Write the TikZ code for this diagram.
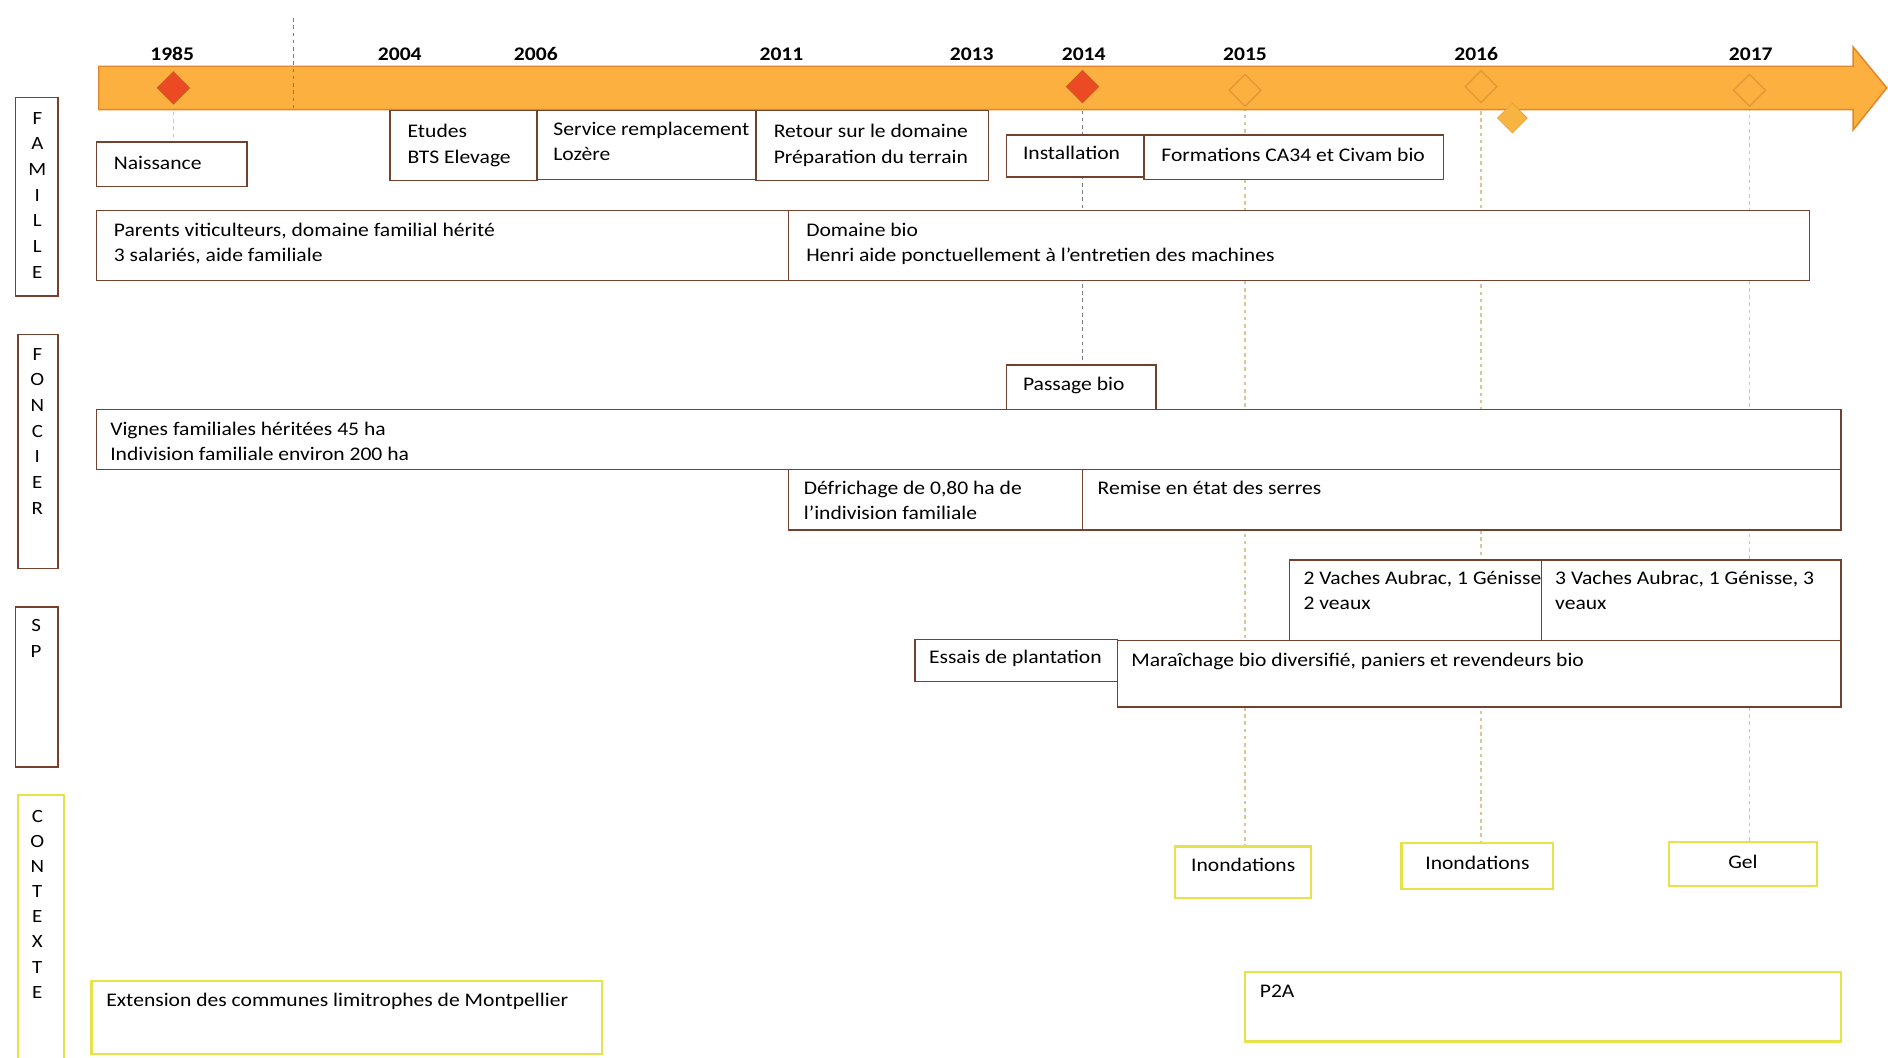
\documentclass[tikz,border=0pt]{standalone}
\usepackage{fontspec}
\setmainfont{Carlito}[FakeStretch=1.12]
\usetikzlibrary{shapes.geometric, fit, backgrounds, positioning}

\definecolor{barfill}{HTML}{FBB03F}
\definecolor{bardraw}{HTML}{E0862A}
\definecolor{keyred}{HTML}{EB4A24}
\definecolor{keyedge}{HTML}{D25A1E}
\definecolor{hollow}{HTML}{E39A35}
\definecolor{goldfill}{HTML}{F7B441}
\definecolor{boxedge}{HTML}{74412F}
\definecolor{ctxedge}{HTML}{E6E24A}
\definecolor{guidecol}{HTML}{D9C59A}
\definecolor{guidedark}{HTML}{7A7A80}

\begin{document}
\begin{tikzpicture}[x=1pt, y=-1pt,
  box/.style = {draw=boxedge, fill=white, line width=1.2pt, inner sep=0pt},
  ctx/.style = {draw=ctxedge, fill=white, line width=1.8pt, inner sep=0pt},
  txt/.style = {anchor=base west, align=left, inner sep=0pt, font=\fontsize{16}{21}\selectfont},
  year/.style = {inner sep=0pt, font=\fontsize{16}{18}\selectfont\bfseries},
  sidetxt/.style = {anchor=base, align=center, inner sep=0pt, font=\fontsize{15.5}{21.3}\selectfont},
  keyfull/.style = {diamond, draw=keyedge, fill=keyred, minimum size=27pt, inner sep=0pt, line width=0.8pt},
  keyopen/.style = {diamond, draw=hollow, minimum size=27pt, inner sep=0pt, line width=1.2pt},
  guide/.style = {draw=guidecol, dashed, line width=1pt}]
  \useasboundingbox (0,0) rectangle (1568,878);

  % timeline
  \draw[bardraw, fill=barfill, line width=1.2pt] (82,55) -- (1539,55) -- (1539,39) -- (1567,73)
    -- (1539,108) -- (1539,91) -- (82,91) -- cycle;
  \coordinate (cuttop) at (244,15);
  \coordinate (cutbot) at (244,91);
  \draw[guidedark, dashed, line width=1pt] (cuttop) -- (cutbot);

  \node[year] (y1985) at (143,45) {1985};
  \node[year] (y2004) at (332,45) {2004};
  \node[year] (y2006) at (445,45) {2006};
  \node[year] (y2011) at (649,45) {2011};
  \node[year] (y2013) at (807,45) {2013};
  \node[year] (y2014) at (900,45) {2014};
  \node[year] (y2015) at (1034,45) {2015};
  \node[year] (y2016) at (1226,45) {2016};
  \node[year] (y2017) at (1454,45) {2017};

  \node[keyfull] (d1985) at (144,73) {};
  \node[keyfull] (d2014) at (899,72) {};
  \node[keyopen] (d2015) at (1034,75) {};
  \node[keyopen] (d2016) at (1230,72) {};
  \node[keyopen] (d2017) at (1453,75) {};
  \node[diamond, draw=hollow, fill=goldfill, minimum size=25pt, inner sep=0pt] (dgold) at (1256,98) {};

  % side labels
  \node[box, fit={(13,81) (48,246)}] (famille) {};
  \node[sidetxt] (famille-t) at (31,231) {F\\A\\M\\I\\L\\L\\E};
  \node[box, fit={(15,278) (48,472)}] (foncier) {};
  \node[sidetxt] (foncier-t) at (31,427) {F\\O\\N\\C\\I\\E\\R};
  \node[box, fit={(13,504) (48,637)}] (sp) {};
  \node[sidetxt] (sp-t) at (30,546) {S\\P};
  \node[ctx, fit={(15,660) (53,884)}] (contexte) {};
  \node[sidetxt, font=\fontsize{15.5}{20.9}\selectfont] (contexte-t) at (31,829) {C\\O\\N\\T\\E\\X\\T\\E};

  % famille
  \node[box, fit={(80,118) (205,155)}] (naiss) {};
  \node[txt] (naiss-t) at ([shift={(15,23)}]naiss.north west) {Naissance};
  \node[box, fit={(324,92) (446,150)}] (etudes) {};
  \node[txt] (etudes-t) at ([shift={(15,44)}]etudes.north west) {Etudes\\BTS Elevage};
  \node[box, fit={(446,92) (628,149)}] (service) {};
  \node[txt] (service-t) at ([shift={(14,42)}]service.north west) {Service remplacement\\Lozère};
  \node[box, fit={(628,92) (821,150)}] (retour) {};
  \node[txt] (retour-t) at ([shift={(15,44)}]retour.north west) {Retour sur le domaine\\Préparation du terrain};
  \node[box, fit={(836,112) (950,147)}] (install) {};
  \node[txt] (install-t) at ([shift={(14,21)}]install.north west) {Installation};
  \node[box, fit={(950,112) (1199,149)}] (format) {};
  \node[txt] (format-t) at ([shift={(15,23)}]format.north west) {Formations CA34 et Civam bio};
  \node[box, fit={(80,175) (655,233)}] (parents) {};
  \node[txt] (parents-t) at ([shift={(15,43)}]parents.north west) {Parents viticulteurs, domaine familial hérité\\3 salariés, aide familiale};
  \node[box, fit={(655,175) (1503,233)}] (domaine) {};
  \node[txt] (domaine-t) at ([shift={(15,43)}]domaine.north west) {Domaine bio\\Henri aide ponctuellement à l’entretien des machines};

  % foncier
  \node[box, fit={(836,303) (960,340)}] (passage) {};
  \node[txt] (passage-t) at ([shift={(14,22)}]passage.north west) {Passage bio};
  \node[box, fit={(80,340) (1529,390)}] (vignes) {};
  \node[txt] (vignes-t) at ([shift={(12,43)}]vignes.north west) {Vignes familiales héritées 45 ha\\Indivision familiale environ 200 ha};
  \node[box, fit={(655,390) (899,440)}] (defrich) {};
  \node[txt] (defrich-t) at ([shift={(13,42)}]defrich.north west) {Défrichage de 0,80 ha de\\l’indivision familiale};
  \node[box, fit={(899,390) (1529,440)}] (remise) {};
  \node[txt] (remise-t) at ([shift={(13,21)}]remise.north west) {Remise en état des serres};

  % sp
  \node[box, fit={(1071,465) (1280,532)}] (vaches2) {};
  \node[txt] (vaches2-t) at ([shift={(12,42)}]vaches2.north west) {2 Vaches Aubrac, 1 Génisse\\2 veaux};
  \node[box, fit={(1280,465) (1529,532)}] (vaches3) {};
  \node[txt] (vaches3-t) at ([shift={(12,42)}]vaches3.north west) {3 Vaches Aubrac, 1 Génisse, 3\\veaux};
  \node[box, fit={(760,531) (928,566)}] (essais) {};
  \node[txt] (essais-t) at ([shift={(12,21)}]essais.north west) {Essais de plantation};
  \node[box, fit={(928,532) (1529,587)}] (marai) {};
  \node[txt] (marai-t) at ([shift={(12,22)}]marai.north west) {Maraîchage bio diversifié, paniers et revendeurs bio};

  % contexte
  \node[ctx, fit={(976,703) (1089,746)}] (ino1) {};
  \node[txt, anchor=base] (ino1-t) at ([shift={(0,22)}]ino1.north) {Inondations};
  \node[ctx, fit={(1164,700) (1290,738)}] (ino2) {};
  \node[txt, anchor=base] (ino2-t) at ([shift={(0,23)}]ino2.north) {Inondations};
  \node[ctx, fit={(1386,699) (1509,736)}] (gel) {};
  \node[txt, anchor=base] (gel-t) at ([shift={(0,23)}]gel.north) {Gel};
  \node[ctx, fit={(1034,807) (1529,865)}] (p2a) {};
  \node[txt] (p2a-t) at ([shift={(13,22)}]p2a.north west) {P2A};
  \node[ctx, fit={(76,815) (500,875)}] (ext) {};
  \node[txt] (ext-t) at ([shift={(13,22)}]ext.north west) {Extension des communes limitrophes de Montpellier};

  % guides
  \begin{scope}[on background layer]
    \draw[guide] (d1985.south) -- (d1985.south |- naiss.north);
    \draw[guidedark, dashed, line width=1pt] (d2014.south) -- (d2014.south |- passage.north);
    \draw[guide] (d2015.south) -- (d2015.south |- ino1.north);
    \draw[guide] (d2016.south) -- (d2016.south |- ino2.north);
    \draw[guide] (d2017.south) -- (d2017.south |- gel.north);
  \end{scope}
\end{tikzpicture}
\end{document}
